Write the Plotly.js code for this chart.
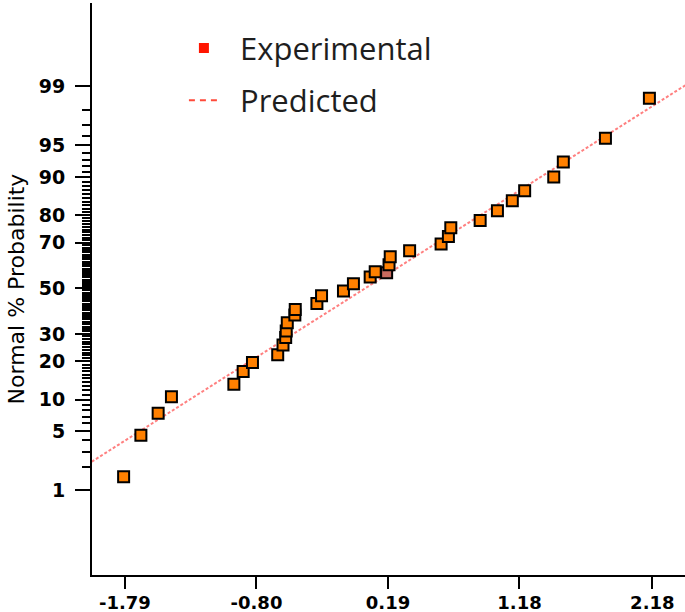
<!DOCTYPE html>
<html>
<head>
<meta charset="utf-8">
<script src="https://cdn.plot.ly/plotly-3.0.1.min.js"></script>
<style>html,body{margin:0;padding:0;background:#fff;}</style>
</head>
<body>
<div id="chart" style="width:685px;height:612px;"></div>
<script>
// Residuals (x) and normal % probability (y)
const residuals = [-1.80, -1.67, -1.54, -1.44, -0.97, -0.90, -0.83, -0.64, -0.60, -0.58,
                   -0.576, -0.568, -0.511, -0.508, -0.345, -0.31, -0.145, -0.07, 0.056, 0.094,
                   0.18, 0.198, 0.207, 0.353, 0.59, 0.645, 0.663, 0.884, 1.014, 1.126,
                   1.219, 1.438, 1.51, 1.827, 2.158];
const probabilityPct = [1.51, 4.53, 7.52, 10.6, 13.5, 16.9, 19.7, 22.2, 25.7, 28.6,
                        31.2, 34.6, 37.9, 40.4, 43.1, 46.6, 48.8, 52.1, 55.2, 57.6,
                        57.1, 60.7, 64.2, 66.7, 69.5, 72.4, 75.7, 78.2, 81.4, 84.3,
                        86.9, 90.0, 92.7, 95.8, 98.56];
// Predicted (fitted) line end points
const lineResiduals = [-2.04, 2.43];
const linePct = [2.30, 99.03];

const xTickVals = [-1.79, -0.80, 0.19, 1.18, 2.18];
const xTickText = ['-1.79', '-0.80', '0.19', '1.18', '2.18'];
const yMajorPct = [1, 5, 10, 20, 30, 50, 70, 80, 90, 95, 99];
const yTickText = ['1', '5', '10', '20', '30', '50', '70', '80', '90', '95', '99'];

// inverse normal CDF (probability axis transform)
function probit(p) {
  const a = [-3.969683028665376e+01, 2.209460984245205e+02, -2.759285104469687e+02, 1.383577518672690e+02, -3.066479806614716e+01, 2.506628277459239e+00];
  const b = [-5.447609879822406e+01, 1.615858368580409e+02, -1.556989798598866e+02, 6.680131188771972e+01, -1.328068155288572e+01];
  const c = [-7.784894002430293e-03, -3.223964580411365e-01, -2.400758277161838e+00, -2.549732539343734e+00, 4.374664141464968e+00, 2.938163982698783e+00];
  const d = [7.784695709041462e-03, 3.224671290700398e-01, 2.445134137142996e+00, 3.754408661907416e+00];
  const pl = 0.02425, ph = 1 - pl;
  let q, r;
  if (p < pl) {
    q = Math.sqrt(-2 * Math.log(p));
    return (((((c[0]*q+c[1])*q+c[2])*q+c[3])*q+c[4])*q+c[5]) / ((((d[0]*q+d[1])*q+d[2])*q+d[3])*q+1);
  }
  if (p <= ph) {
    q = p - 0.5; r = q * q;
    return (((((a[0]*r+a[1])*r+a[2])*r+a[3])*r+a[4])*r+a[5])*q / (((((b[0]*r+b[1])*r+b[2])*r+b[3])*r+b[4])*r+1);
  }
  q = Math.sqrt(-2 * Math.log(1 - p));
  return -(((((c[0]*q+c[1])*q+c[2])*q+c[3])*q+c[4])*q+c[5]) / ((((d[0]*q+d[1])*q+d[2])*q+d[3])*q+1);
}
const toZ = pct => probit(pct / 100);

const minorPct = [];
for (let k = 1; k <= 99; k++) if (!yMajorPct.includes(k)) minorPct.push(k);

const markerColors = residuals.map((_, i) => i === 20 ? '#c86a5e' : '#ff8000');

const traces = [
  {
    x: lineResiduals, y: linePct.map(toZ), type: 'scatter', mode: 'lines',
    line: {color: '#ff8080', width: 2, dash: '3px,2px'},
    showlegend: false, hoverinfo: 'skip'
  },
  {
    x: residuals, y: probabilityPct.map(toZ), type: 'scatter', mode: 'markers',
    marker: {symbol: 'square', size: 11, color: markerColors, line: {color: '#000', width: 2}},
    showlegend: false, cliponaxis: false
  },
  {
    x: [null], y: [null], type: 'scatter', mode: 'markers', name: '\u00a0\u00a0Experimental',
    legendgroup: 'exp', marker: {symbol: 'square', size: 10, color: '#ff1500'}
  },
  {
    x: [null], y: [null], type: 'scatter', mode: 'lines', name: '\u00a0\u00a0Predicted',
    legendgroup: 'pred', line: {color: '#ff4a3a', width: 2, dash: '6px,5px'}
  }
];

const layout = {
  width: 685, height: 612,
  margin: {l: 92, r: 0, t: 3, b: 37},
  paper_bgcolor: '#fff', plot_bgcolor: '#fff',
  showlegend: true,
  legend: {
    x: 0.155, y: 0.968, xanchor: 'left', yanchor: 'top',
    font: {family: 'Open Sans', size: 31, color: '#1e1e1e'},
    bgcolor: 'rgba(0,0,0,0)', borderwidth: 0, tracegroupgap: 9
  },
  xaxis: {
    range: [-2.038, 2.426], tickmode: 'array', tickvals: xTickVals, ticktext: xTickText,
    ticks: 'outside', ticklen: 12, tickwidth: 2, tickcolor: '#000',
    showline: true, linecolor: '#000', linewidth: 2, showgrid: false, zeroline: false,
    ticklabelstandoff: -2,
    tickfont: {family: 'DejaVu Sans', size: 18, color: '#000', weight: 'bold'}
  },
  yaxis: {
    range: [-3.299, 3.283], tickmode: 'array', tickvals: yMajorPct.map(toZ), ticktext: yTickText,
    ticks: 'outside', ticklen: 15, tickwidth: 2, tickcolor: '#000',
    minor: {tickmode: 'array', tickvals: minorPct.map(toZ), ticks: 'outside', ticklen: 8,
            tickwidth: 2, tickcolor: '#000', showgrid: false},
    showline: true, linecolor: '#000', linewidth: 2, showgrid: false, zeroline: false,
    ticklabelstandoff: 6,
    tickfont: {family: 'DejaVu Sans', size: 19, color: '#000', weight: 'bold'},
    title: {text: 'Normal % Probability', font: {family: 'DejaVu Sans', size: 22, color: '#000'}, standoff: 8}
  }
};

Plotly.newPlot('chart', traces, layout, {displayModeBar: false, staticPlot: true});
</script>
</body>
</html>
